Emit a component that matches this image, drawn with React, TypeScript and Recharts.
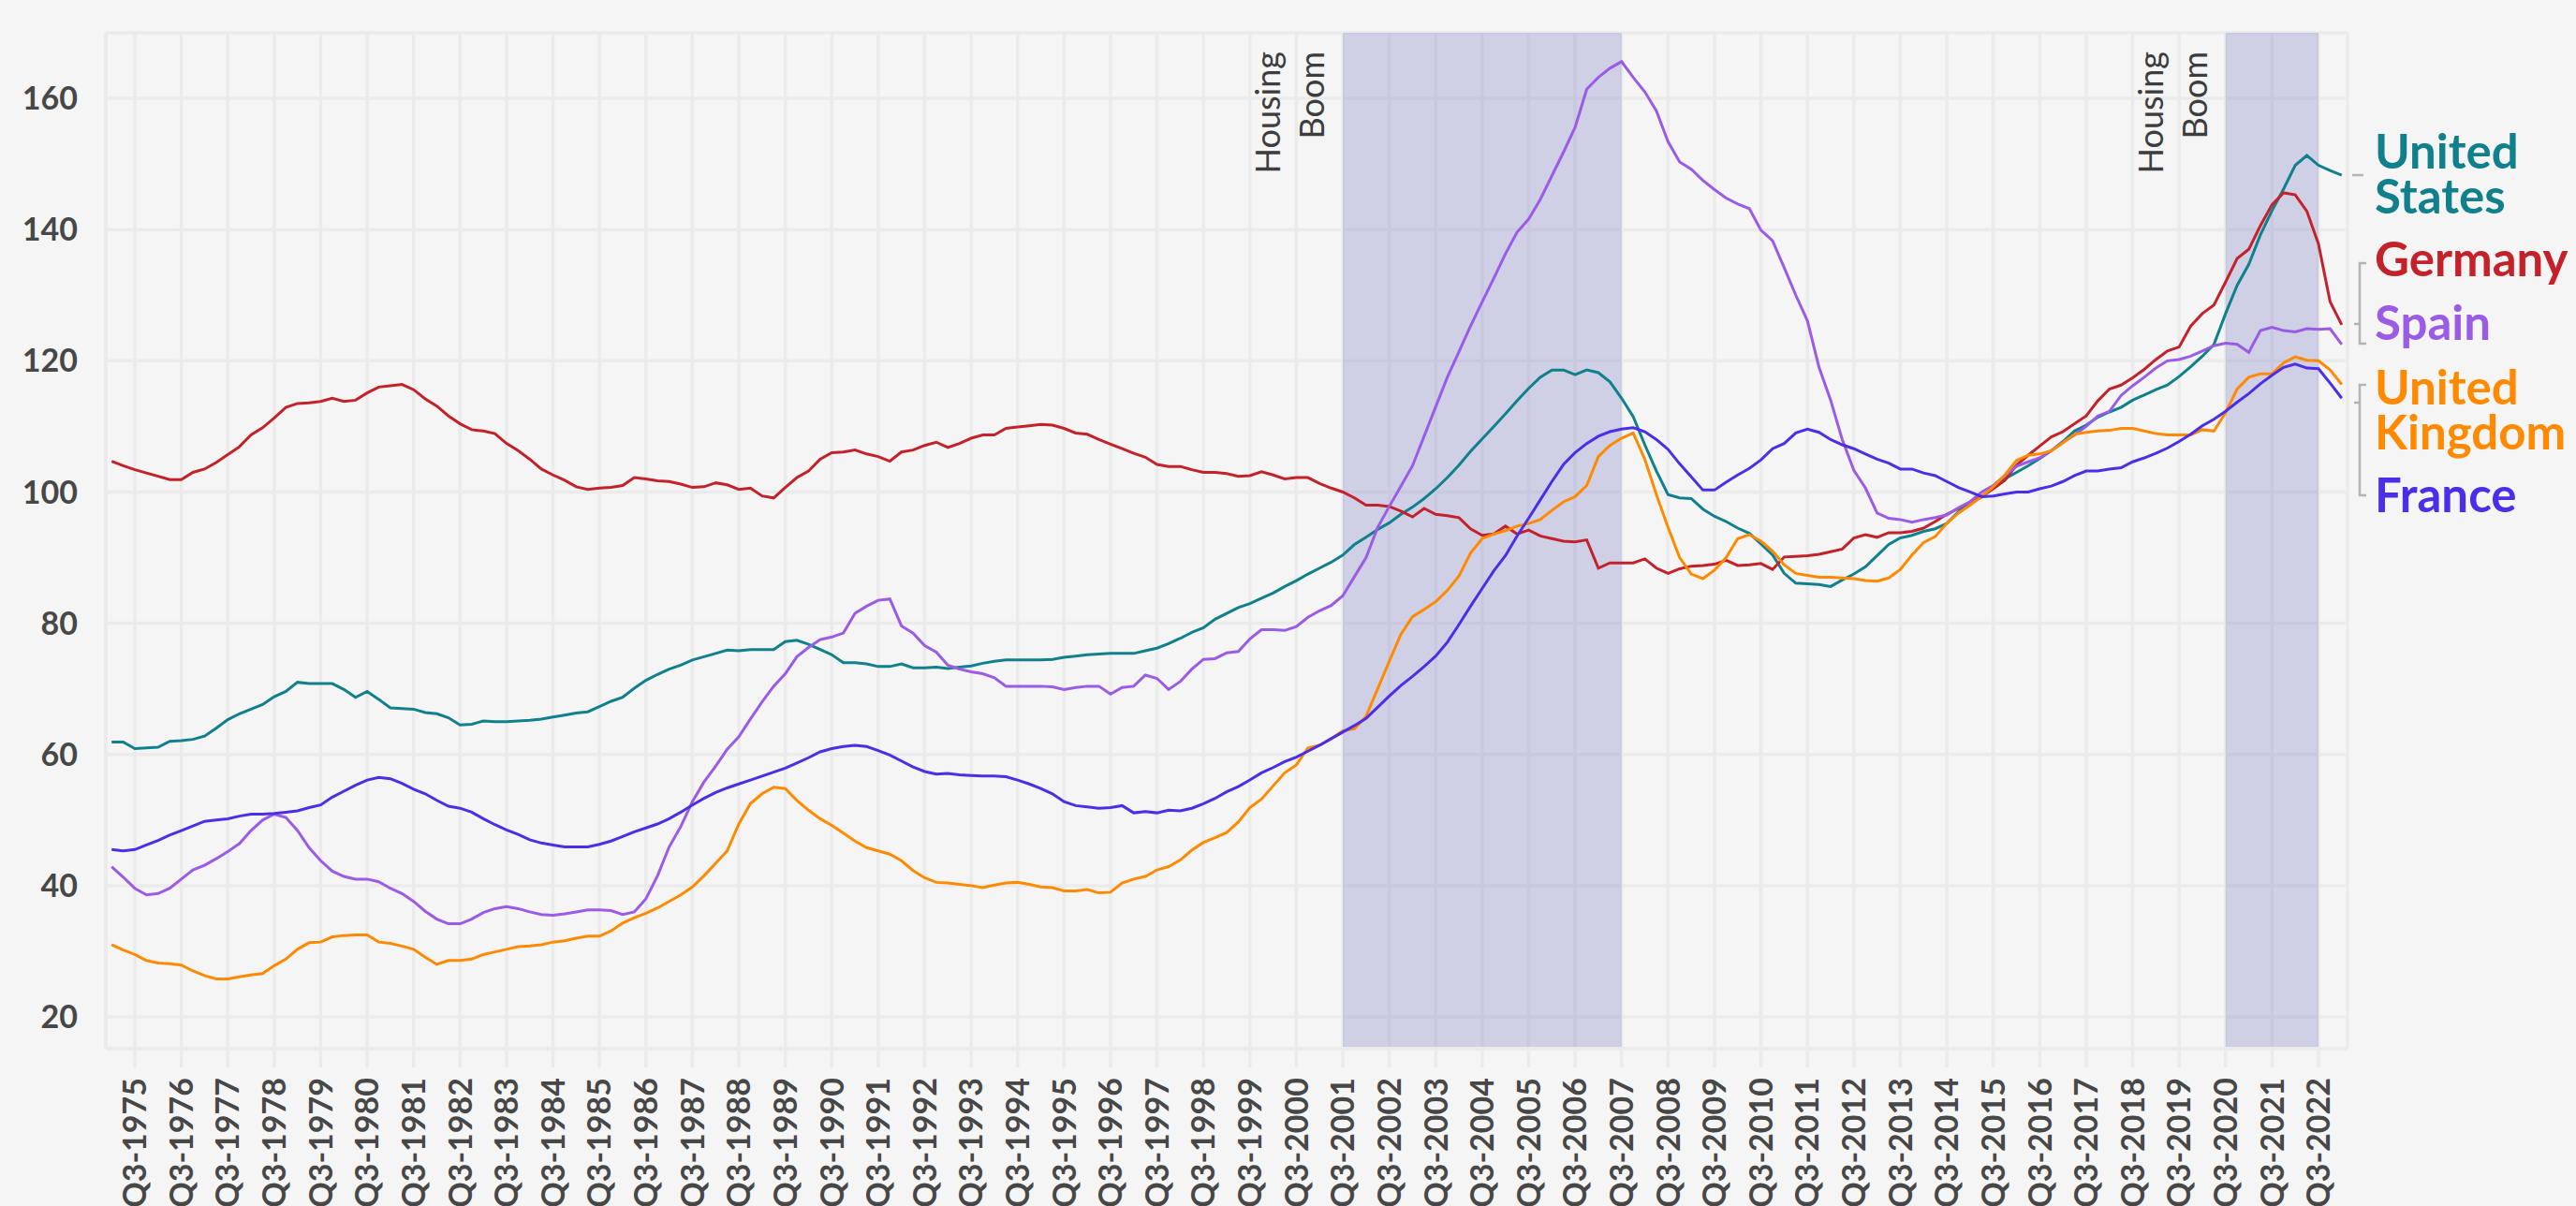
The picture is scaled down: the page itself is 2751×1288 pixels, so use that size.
import React from 'react';
import { LineChart, Line, XAxis, YAxis, CartesianGrid, ReferenceArea, Label } from 'recharts';

// Quarterly categories Q1-1975 ... Q1-2023
const quarters: string[] = [];
for (let y = 1975; y <= 2023; y++) {
  for (let q = 1; q <= 4; q++) {
    if (y === 2023 && q > 1) break;
    quarters.push(`Q${q}-${y}`);
  }
}

const unitedStates = [
  61.9,61.9,60.9,61.0,61.1,62.0,62.1,62.3,62.8,64.0,65.3,66.2,66.9,67.6,68.8,69.6,71.0,70.8,70.8,70.8,
  69.9,68.7,69.6,68.4,67.1,67.0,66.9,66.4,66.2,65.6,64.5,64.6,65.1,65.0,65.0,65.1,65.2,65.4,65.7,66.0,
  66.3,66.5,67.3,68.1,68.7,70.1,71.3,72.2,73.0,73.6,74.4,74.9,75.4,75.9,75.8,76.0,76.0,76.0,77.2,77.4,
  76.8,76.0,75.2,74.0,74.0,73.8,73.4,73.4,73.8,73.2,73.2,73.3,
  73.1,73.3,73.5,73.9,74.2,74.4,74.4,74.4,74.4,74.5,74.8,75.0,75.2,75.3,75.4,75.4,75.4,75.8,76.2,76.9,
  77.7,78.6,79.3,80.6,81.5,82.4,83.0,83.8,84.6,85.6,86.5,87.5,88.4,89.3,90.4,92.0,93.1,94.3,95.3,96.6,
  97.7,99.0,100.5,102.2,104.1,106.2,108.1,110.0,111.9,113.9,115.8,117.5,118.6,118.6,117.9,118.6,118.2,116.8,114.3,111.5,
  107.2,103.2,99.6,99.1,
  99.0,97.4,96.3,95.5,94.5,93.7,92.1,90.4,87.6,86.1,86.0,85.9,85.6,86.6,87.5,88.6,90.3,92.0,93.0,93.4,
  94.0,94.4,95.2,97.0,98.4,99.2,100.6,102.0,103.0,104.0,105.1,106.3,107.7,109.3,110.2,111.4,112.2,112.9,114.0,114.8,
  115.6,116.3,117.6,119.1,120.7,122.5,127.2,131.5,134.7,139.2,142.9,146.2,149.8,151.3,149.8,149.0,148.3,
];

const germany = [
  104.7,104.0,103.4,102.9,102.4,101.9,101.9,103.0,103.5,104.5,105.7,106.9,108.7,109.8,111.3,112.9,113.5,113.6,113.8,114.3,
  113.8,114.0,115.1,116.0,116.2,116.4,115.6,114.2,113.1,111.6,110.4,109.5,109.3,108.9,107.4,106.3,105.0,103.5,102.6,101.8,
  100.8,100.4,100.6,100.7,101.0,102.2,102.0,101.7,101.6,101.2,100.7,100.8,101.4,101.1,100.4,100.6,99.4,99.1,100.7,102.2,
  103.2,105.0,106.0,106.1,106.4,105.8,105.4,104.7,106.1,106.4,107.1,107.6,
  106.8,107.4,108.2,108.7,108.7,109.7,109.9,110.1,110.3,110.2,109.7,109.0,108.8,108.0,107.3,106.6,105.9,105.3,104.2,103.9,
  103.9,103.4,103.0,103.0,102.8,102.4,102.5,103.1,102.6,102.0,102.2,102.2,101.3,100.6,100.0,99.1,98.0,98.0,97.8,97.1,
  96.2,97.5,96.6,96.4,96.1,94.4,93.4,93.6,94.8,93.6,94.2,93.3,92.9,92.5,92.4,92.7,88.4,89.2,89.2,89.2,
  89.8,88.4,87.6,88.3,
  88.7,88.8,89.0,89.6,88.8,88.9,89.1,88.2,90.1,90.2,90.3,90.5,90.9,91.3,93.0,93.5,93.1,93.8,93.8,94.0,
  94.5,95.5,96.6,97.5,98.5,99.4,100.5,101.8,104.1,105.6,107.0,108.4,109.2,110.4,111.6,113.9,115.7,116.3,117.4,118.7,
  120.2,121.5,122.1,125.3,127.2,128.5,132.0,135.6,137.0,140.6,143.8,145.6,145.3,142.8,137.8,129.0,125.5,
];

const spain = [
  42.9,41.3,39.6,38.6,38.8,39.6,41.0,42.4,43.1,44.1,45.2,46.4,48.4,50.0,50.9,50.4,48.4,45.8,43.8,42.2,
  41.4,41.0,41.0,40.6,39.6,38.8,37.6,36.1,34.9,34.2,34.2,34.9,35.9,36.5,36.8,36.5,36.0,35.6,35.5,35.7,
  36.0,36.3,36.3,36.2,35.6,36.0,38.0,41.5,45.9,49.0,52.8,55.8,58.2,60.8,62.7,65.4,68.0,70.4,72.3,74.9,
  76.3,77.5,77.9,78.5,81.5,82.6,83.5,83.7,79.6,78.5,76.6,75.6,
  73.6,73.0,72.6,72.3,71.7,70.4,70.4,70.4,70.4,70.3,69.9,70.2,70.4,70.4,69.2,70.2,70.4,72.1,71.6,69.9,
  71.1,73.0,74.5,74.6,75.5,75.7,77.6,79.0,79.0,78.9,79.5,80.9,81.9,82.7,84.2,87.1,90.0,94.6,97.8,100.9,
  104.0,108.5,113.0,117.5,121.4,125.3,129.0,132.6,136.3,139.6,141.6,144.6,148.2,151.8,155.6,161.4,163.2,164.6,165.6,163.2,
  161.0,158.1,153.4,150.3,
  149.2,147.5,146.1,144.8,143.9,143.2,139.9,138.3,134.2,130.0,126.1,119.0,114.0,108.0,103.3,100.6,96.8,96.0,95.8,95.4,
  95.8,96.1,96.5,97.6,98.5,100.0,101.0,102.5,103.9,104.6,105.2,106.3,107.6,108.7,110.0,111.6,112.3,114.7,116.2,117.5,
  118.9,120.0,120.2,120.7,121.5,122.3,122.7,122.5,121.3,124.6,125.1,124.6,124.4,124.9,124.8,124.9,122.5,
];

const unitedKingdom = [
  31.0,30.2,29.5,28.6,28.2,28.1,27.9,27.0,26.3,25.8,25.8,26.1,26.4,26.6,27.8,28.8,30.3,31.3,31.4,32.2,
  32.4,32.5,32.5,31.4,31.2,30.8,30.3,29.1,28.0,28.6,28.6,28.8,29.5,29.9,30.3,30.7,30.8,31.0,31.4,31.6,
  32.0,32.3,32.3,33.1,34.3,35.1,35.8,36.6,37.6,38.6,39.8,41.5,43.4,45.3,49.4,52.5,54.0,55.0,54.8,53.0,
  51.5,50.2,49.2,48.0,46.8,45.8,45.3,44.8,43.8,42.3,41.2,40.5,
  40.4,40.2,40.0,39.7,40.1,40.4,40.5,40.2,39.8,39.7,39.2,39.2,39.4,38.9,39.0,40.4,41.0,41.4,42.4,42.9,
  43.9,45.4,46.6,47.3,48.1,49.7,51.9,53.2,55.2,57.2,58.4,61.0,61.4,62.4,63.6,63.9,65.8,70.0,74.2,78.3,
  81.0,82.1,83.3,85.0,87.2,90.7,92.9,93.6,94.1,94.8,95.2,95.8,97.2,98.5,99.3,101.0,105.4,107.1,108.2,109.0,
  105.0,99.6,94.6,90.0,
  87.5,86.8,88.1,90.0,92.9,93.5,92.5,91.0,88.9,87.6,87.3,87.0,87.0,86.9,86.8,86.5,86.4,86.9,88.2,90.4,
  92.3,93.2,95.2,96.8,98.0,99.3,100.8,102.6,104.8,105.6,105.8,106.3,107.5,108.8,109.1,109.3,109.4,109.7,109.7,109.3,
  108.9,108.7,108.7,108.7,109.5,109.3,112.1,115.7,117.5,118.0,118.0,119.7,120.6,120.1,120.0,118.6,116.4,
];

const france = [
  45.5,45.3,45.5,46.2,46.9,47.7,48.4,49.1,49.8,50.0,50.2,50.6,50.9,50.9,51.0,51.2,51.4,51.9,52.3,53.5,
  54.4,55.3,56.1,56.5,56.3,55.6,54.7,54.0,53.0,52.1,51.8,51.2,50.2,49.3,48.5,47.8,47.0,46.5,46.2,45.9,
  45.9,45.9,46.3,46.8,47.5,48.2,48.8,49.4,50.2,51.2,52.3,53.3,54.2,54.9,55.5,56.1,56.7,57.3,57.9,58.7,
  59.5,60.4,60.9,61.2,61.4,61.2,60.6,59.9,59.0,58.1,57.4,57.0,
  57.1,56.9,56.8,56.7,56.7,56.6,56.1,55.5,54.8,54.0,52.8,52.2,52.0,51.8,51.9,52.2,51.1,51.3,51.1,51.5,
  51.4,51.8,52.5,53.3,54.3,55.1,56.1,57.2,58.0,58.9,59.6,60.5,61.4,62.4,63.4,64.4,65.5,67.2,68.9,70.5,
  71.9,73.4,75.0,77.1,79.8,82.6,85.3,88.0,90.3,93.3,96.0,98.8,101.6,104.2,106.0,107.4,108.5,109.2,109.6,109.8,
  109.2,108.0,106.5,104.3,
  102.3,100.3,100.3,101.5,102.6,103.6,104.9,106.6,107.4,109.0,109.6,109.1,108.0,107.2,106.6,105.8,105.0,104.4,103.5,103.5,
  102.9,102.5,101.6,100.7,100.0,99.3,99.4,99.7,100.0,100.0,100.5,100.9,101.6,102.5,103.2,103.2,103.5,103.7,104.6,105.2,
  105.9,106.7,107.7,108.8,110.1,111.1,112.3,113.7,115.0,116.5,117.8,119.0,119.5,118.9,118.8,116.6,114.3,
];

const yTicks = [20, 40, 60, 80, 100, 120, 140, 160];
const xTickLabels = quarters.filter((q) => q.startsWith('Q3'));
const xTicks = xTickLabels.map((l) => quarters.indexOf(l));

const booms = [
  { from: 'Q3-2001', to: 'Q3-2007' },
  { from: 'Q3-2020', to: 'Q3-2022' },
];

const seriesList = [
  { key: 'us', name: 'United States', values: unitedStates, color: '#10808c' },
  { key: 'de', name: 'Germany', values: germany, color: '#c3222b' },
  { key: 'es', name: 'Spain', values: spain, color: '#9a5ce6' },
  { key: 'uk', name: 'United Kingdom', values: unitedKingdom, color: '#ff8a00' },
  { key: 'fr', name: 'France', values: france, color: '#4b2ee8' },
];

const data = quarters.map((q, i) => {
  const row: Record<string, number | string> = { idx: i, quarter: q };
  seriesList.forEach((s) => {
    row[s.key] = s.values[i];
  });
  return row;
});

const FONT = 'Lato, "Open Sans", sans-serif';
const TICK_COLOR = '#474747';
const GRID = '#ebebeb';
const BG = '#f5f5f5';

const XTick = (props: any) => {
  const { x, y, payload } = props;
  return (
    <g transform={`translate(${x},${y})`}>
      <text
        transform="rotate(-90)"
        textAnchor="end"
        dy="0.36em"
        fill={TICK_COLOR}
        fontFamily={FONT}
        fontWeight={700}
        fontSize={34}
      >
        {quarters[payload.value]}
      </text>
    </g>
  );
};

const BoomLabel = (props: any) => {
  const vb = props.viewBox || {};
  const x = vb.x ?? 0;
  const y = (vb.y ?? 0) + 20;
  const common = {
    fill: '#3d3d3d',
    fontFamily: FONT,
    fontSize: 36,
    textAnchor: 'end' as const,
  };
  return (
    <g>
      <text {...common} transform={`translate(${x - 67},${y}) rotate(-90)`}>Housing</text>
      <text {...common} transform={`translate(${x - 20},${y}) rotate(-90)`}>Boom</text>
    </g>
  );
};

const legendItems = [
  { lines: ['United', 'States'], color: '#10808c', baselines: [180, 228] },
  { lines: ['Germany'], color: '#c3222b', baselines: [295] },
  { lines: ['Spain'], color: '#9a5ce6', baselines: [363] },
  { lines: ['United', 'Kingdom'], color: '#ff8a00', baselines: [432, 480] },
  { lines: ['France'], color: '#4b2ee8', baselines: [547] },
];

export default function App() {
  return (
    <div
      style={{
        position: 'absolute',
        left: 0,
        top: 0,
        width: 2751,
        height: 1288,
        background: BG,
        overflow: 'hidden',
      }}
    >
      <LineChart
        width={2751}
        height={1288}
        data={data}
        margin={{ top: 35, right: 244, left: 0, bottom: 0 }}
      >
        <CartesianGrid stroke={GRID} strokeWidth={3.5} />
        <XAxis
          dataKey="idx"
          type="number"
          domain={[-0.5, quarters.length - 0.5]}
          ticks={xTicks}
          interval={0}
          height={168}
          tick={<XTick />}
          tickSize={20}
          tickMargin={11}
          tickLine={{ stroke: GRID, strokeWidth: 3.5 }}
          axisLine={{ stroke: GRID, strokeWidth: 4 }}
          allowDataOverflow
        />
        <YAxis
          type="number"
          domain={[15.15, 170]}
          ticks={yTicks}
          interval={0}
          width={113}
          tickSize={0}
          tickMargin={30}
          tickLine={false}
          axisLine={{ stroke: GRID, strokeWidth: 4 }}
          tick={{ fill: TICK_COLOR, fontFamily: FONT, fontWeight: 700, fontSize: 34 }}
          allowDataOverflow
        />
        {booms.map((b) => (
          <ReferenceArea
            key={b.from}
            x1={quarters.indexOf(b.from)}
            x2={quarters.indexOf(b.to)}
            fill="rgb(97,101,185)"
            fillOpacity={0.25}
            stroke="none"
          >
            <Label content={<BoomLabel />} />
          </ReferenceArea>
        ))}
        {seriesList.map((s) => (
          <Line
            key={s.key}
            dataKey={s.key}
            name={s.name}
            type="linear"
            stroke={s.color}
            strokeWidth={3}
            dot={false}
            activeDot={false}
            isAnimationActive={false}
          />
        ))}
      </LineChart>
      <svg
        width={2751}
        height={1288}
        style={{ position: 'absolute', left: 0, top: 0, pointerEvents: 'none' }}
      >
        <g stroke="#b3b3b3" strokeWidth={2.5} fill="none">
          <path d="M2512,187 H2524" />
          <path d="M2527,281 H2520 V367 H2527 M2520,346 H2514" />
          <path d="M2527,411 H2520 V529 H2527 M2520,430 H2514" />
        </g>
        {legendItems.map((it) =>
          it.lines.map((ln, j) => (
            <text
              key={`${ln}-${it.baselines[j]}`}
              x={2536}
              y={it.baselines[j]}
              fill={it.color}
              fontFamily={FONT}
              fontWeight={700}
              fontSize={51}
            >
              {ln}
            </text>
          ))
        )}
      </svg>
    </div>
  );
}
